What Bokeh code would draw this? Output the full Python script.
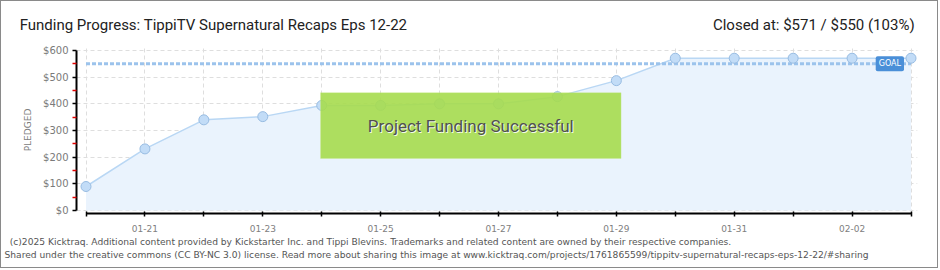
import datetime as dt
from bokeh.plotting import figure
from bokeh.models import (FixedTicker, DatetimeTickFormatter, NumeralTickFormatter,
                          Label, BoxAnnotation, Range1d, ColumnDataSource, LinearAxis)
from bokeh.embed import file_html
from bokeh.resources import INLINE

# ---------------- data ----------------
dates = ["2025-01-20", "2025-01-21", "2025-01-22", "2025-01-23", "2025-01-24",
         "2025-01-25", "2025-01-26", "2025-01-27", "2025-01-28", "2025-01-29",
         "2025-01-30", "2025-01-31", "2025-02-01", "2025-02-02", "2025-02-03"]
pledged = [90, 231, 340, 352, 394, 394, 400, 400, 427, 487, 571, 571, 571, 571, 571]
goal = 550
y_ticks = [0, 100, 200, 300, 400, 500, 600]
y_minor = [50, 150, 250, 350, 450, 550]
title_text = "Funding Progress: TippiTV Supernatural Recaps Eps 12-22"
closed_text = "Closed at:  $571 /  $550 (103%)"
success_text = "Project Funding Successful"
goal_text = "GOAL"
y_axis_label = "PLEDGED"
footer_1 = ("(c)2025 Kicktraq. Additional content provided by Kickstarter Inc. and Tippi Blevins. "
            "Trademarks and related content are owned by their respective companies.")
footer_2 = ("Shared under the creative commons (CC BY-NC 3.0) license. Read more about sharing this image at "
            "www.kicktraq.com/projects/1761865599/tippitv-supernatural-recaps-eps-12-22/#sharing")

# ---------------- helpers ----------------
x = [dt.datetime.strptime(d, "%Y-%m-%d") for d in dates]
EPOCH = dt.datetime(1970, 1, 1)
def ms(d):
    return (d - EPOCH).total_seconds() * 1000.0
DAY = 86400000.0

# layout (canvas pixels, canvas sits inside a 1px border)
W, H = 938, 268
FL, FR, FT, FB = 75, 916, 45, 212          # frame edges
X0_PX, X1_PX = 84.5, 909.5                  # first / last day
Y0_PX, Y600_PX = 209, 49                    # $0 / $600
px_day = (X1_PX - X0_PX) / ((ms(x[-1]) - ms(x[0])) / DAY)
px_usd = (Y0_PX - Y600_PX) / 600.0

x_start = ms(x[0]) - (X0_PX - FL) / px_day * DAY
x_end = ms(x[-1]) + (FR - X1_PX) / px_day * DAY
y_start = -(FB - Y0_PX) / px_usd
y_end = 600 + (Y600_PX - FT) / px_usd

p = figure(width=W, height=H, output_backend="svg", toolbar_location=None,
           x_axis_type="datetime",
           x_range=Range1d(x_start, x_end), y_range=Range1d(y_start, y_end),
           min_border_left=FL, min_border_right=W - FR,
           min_border_top=FT, min_border_bottom=H - FB,
           background_fill_color="white", border_fill_color="white",
           styles={"border": "1px solid #8a8a8a"})
p.outline_line_color = None
# a pixel range over the frame, used to place header / footer texts
p.extra_x_ranges = {"px": Range1d(FL, FR)}

# grids
major_x = [ms(d) for d in x[1::2]]
minor_x = [ms(d) for d in x[0::2]]
p.xgrid.ticker = FixedTicker(ticks=major_x, minor_ticks=minor_x)
p.xgrid.grid_line_color = "#dedede"
p.xgrid.grid_line_dash = "4 3"
p.xgrid.minor_grid_line_color = "#dedede"
p.xgrid.minor_grid_line_dash = "4 3"
p.xgrid.bounds = (0, 600)
p.ygrid.ticker = FixedTicker(ticks=y_ticks)
p.ygrid.grid_line_color = "#dedede"
p.ygrid.grid_line_dash = "4 3"
p.ygrid.bounds = (ms(x[0]), ms(x[-1]))

# area + line + points
src = ColumnDataSource(dict(x=x, y=pledged))
p.varea(x="x", y1=0, y2="y", source=src, fill_color="#eaf3fd", fill_alpha=1)
p.line(x="x", y="y", source=src, line_color="#b9d7f4", line_width=1.5)

# goal line
p.line(x=[x[0], x[-1]], y=[goal, goal], line_color="#9cc3ec", line_width=3, line_dash="4 2")

p.scatter(x="x", y="y", source=src, size=10, fill_color="#c2dcf7", line_color="#98bce2", line_width=1)

# goal tag
p.add_layout(Label(x=ms(x[-1]), y=goal, x_offset=-7, text=goal_text, text_align="right",
                   text_baseline="middle", text_color="white", text_font="DejaVu Sans",
                   text_font_size="8px", background_fill_color="#4a8fd8", padding=3,
                   border_radius=2))

# success box
bx_left = ms(x[4]) - 0.02 * DAY
bx_right = ms(x[9]) + 0.08 * DAY
p.add_layout(BoxAnnotation(left=bx_left, right=bx_right, top=442, bottom=195,
                           fill_color="#a6dc4e", fill_alpha=0.9,
                           line_color="#c9ec8f", line_width=1))
cx = (bx_left + bx_right) / 2
p.add_layout(Label(x=cx, y=318, x_offset=1, y_offset=-1, text=success_text, text_align="center",
                   text_baseline="middle", text_color="#f4fbe8", text_font="Roboto",
                   text_font_size="17px"))
p.add_layout(Label(x=cx, y=318, text=success_text, text_align="center",
                   text_baseline="middle", text_color="#505050", text_font="Roboto",
                   text_font_size="17px"))

# x axis
xa = p.xaxis[0]
xa.ticker = FixedTicker(ticks=major_x, minor_ticks=minor_x)
fmt = "%m-%d"
xa.formatter = DatetimeTickFormatter(days=fmt, months=fmt, hours=fmt, hourmin=fmt,
                                     minutes=fmt, minsec=fmt, seconds=fmt, years=fmt)
xa.bounds = (ms(x[0]), ms(x[-1]))
xa.axis_line_color = "black"
xa.axis_line_width = 2
xa.major_tick_line_color = "black"
xa.minor_tick_line_color = "black"
xa.major_tick_line_width = 1.5
xa.minor_tick_line_width = 1.5
xa.major_tick_in = 2
xa.major_tick_out = 3
xa.minor_tick_in = 2
xa.minor_tick_out = 3
xa.major_label_standoff = 8
xa.major_label_text_font = "DejaVu Sans"
xa.major_label_text_font_size = "9px"
xa.major_label_text_color = "#808080"

# y axis
ya = p.yaxis[0]
ya.ticker = FixedTicker(ticks=y_ticks, minor_ticks=y_minor)
ya.formatter = NumeralTickFormatter(format="$0")
ya.bounds = (0, 600)
ya.axis_line_color = "black"
ya.axis_line_width = 2
ya.major_tick_line_color = "black"
ya.major_tick_line_width = 1.5
ya.minor_tick_line_color = "#e00000"
ya.minor_tick_line_width = 1.5
ya.major_tick_in = 0
ya.major_tick_out = 4
ya.minor_tick_in = 0
ya.minor_tick_out = 4
ya.major_label_standoff = 4
ya.major_label_text_font = "DejaVu Sans"
ya.major_label_text_font_size = "10px"
ya.major_label_text_color = "#7a7a7a"
ya.axis_label = y_axis_label
ya.axis_label_text_font = "DejaVu Sans"
ya.axis_label_text_font_size = "9px"
ya.axis_label_text_font_style = "normal"
ya.axis_label_text_color = "#808080"
ya.axis_label_standoff = 7

# header and footer texts: bare axes on the pixel range, one centred label per text
def text_axis(place, centers, texts, font, size, color, standoff):
    ax = LinearAxis(x_range_name="px", ticker=FixedTicker(ticks=centers, minor_ticks=[]),
                    major_label_overrides={c: t for c, t in zip(centers, texts)},
                    axis_line_color=None, major_tick_line_color=None,
                    minor_tick_line_color=None, major_tick_in=0, major_tick_out=0,
                    minor_tick_in=0, minor_tick_out=0,
                    major_label_standoff=standoff, major_label_text_font=font,
                    major_label_text_font_size=size, major_label_text_color=color)
    p.add_layout(ax, place)

# label anchor points (canvas px)
text_axis("above", [212, 816], [title_text, closed_text], "Roboto", "15px", "#222222", 13)
text_axis("below", [369], [footer_1], "DejaVu Sans", "9.15px", "#555555", 2)
text_axis("below", [435], [footer_2], "DejaVu Sans", "9.15px", "#555555", 0)

open("out.html", "w").write(file_html(p, INLINE))
